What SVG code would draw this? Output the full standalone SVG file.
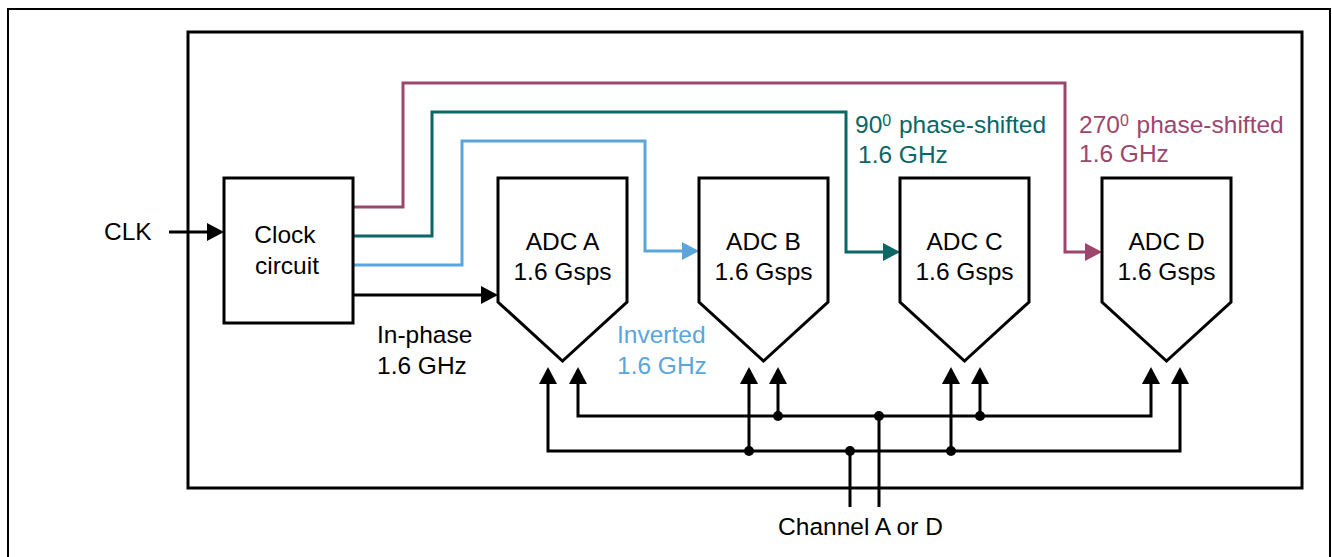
<svg xmlns="http://www.w3.org/2000/svg" width="1332" height="557" viewBox="0 0 1332 557">
  <style>
    .frame { fill: none; stroke: #000; }
    .blk { fill: #fff; stroke: #000; stroke-width: 3; stroke-linejoin: miter; }
    .wire { fill: none; stroke-width: 3; stroke-linejoin: miter; }
    .k { stroke: #000; }
    .mg { stroke: #9C466D; }
    .tl { stroke: #0B6666; }
    .bl { stroke: #5AA5DB; }
    text { font-family: "Liberation Sans", Arial, sans-serif; font-size: 24.5px; fill: #000; }
    .c { text-anchor: middle; }
    .tmg { fill: #9C466D; }
    .ttl { fill: #0B6666; }
    .tbl { fill: #5AA5DB; }
    .sup { font-size: 16px; }
  </style>
  <defs>
    <marker id="ak" markerUnits="userSpaceOnUse" markerWidth="17" markerHeight="18" refX="14" refY="9" orient="auto">
      <path d="M0,0 L17,9 L0,18 Z" fill="#000"/>
    </marker>
    <marker id="amg" markerUnits="userSpaceOnUse" markerWidth="17" markerHeight="18" refX="14" refY="9" orient="auto">
      <path d="M0,0 L17,9 L0,18 Z" fill="#9C466D"/>
    </marker>
    <marker id="atl" markerUnits="userSpaceOnUse" markerWidth="17" markerHeight="18" refX="14" refY="9" orient="auto">
      <path d="M0,0 L17,9 L0,18 Z" fill="#0B6666"/>
    </marker>
    <marker id="abl" markerUnits="userSpaceOnUse" markerWidth="17" markerHeight="18" refX="14" refY="9" orient="auto">
      <path d="M0,0 L17,9 L0,18 Z" fill="#5AA5DB"/>
    </marker>
  </defs>

  <rect width="1332" height="557" fill="#fff"/>

  <!-- outer and chip boundaries -->
  <rect class="frame" x="8" y="9" width="1322" height="562" stroke-width="2"/>
  <rect class="frame" x="188" y="32" width="1114" height="456" stroke-width="3"/>

  <!-- connectors -->
  <g id="connectors">
    <!-- CLK input -->
    <path class="wire k" d="M169,232 H221" marker-end="url(#ak)"/>
    <!-- clock phases -->
    <path class="wire mg" d="M353,207 H403 V83 H1065 V252 H1099" marker-end="url(#amg)"/>
    <path class="wire tl" d="M353,236 H432 V112 H846 V252 H897" marker-end="url(#atl)"/>
    <path class="wire bl" d="M353,265 H462 V141 H645 V251 H696" marker-end="url(#abl)"/>
    <path class="wire k" d="M353,295 H495" marker-end="url(#ak)"/>

    <!-- sampling buses -->
    <path class="wire k" d="M879,416 H578 V370" marker-end="url(#ak)"/>
    <path class="wire k" d="M879,416 H1151 V370" marker-end="url(#ak)"/>
    <path class="wire k" d="M850,451 H548 V370" marker-end="url(#ak)"/>
    <path class="wire k" d="M850,451 H1180 V370" marker-end="url(#ak)"/>
    <path class="wire k" d="M749,451 V370" marker-end="url(#ak)"/>
    <path class="wire k" d="M778,416 V370" marker-end="url(#ak)"/>
    <path class="wire k" d="M951,451 V370" marker-end="url(#ak)"/>
    <path class="wire k" d="M980,416 V370" marker-end="url(#ak)"/>
    <path class="wire k" d="M850,451 V507"/>
    <path class="wire k" d="M879,416 V507"/>

    <g fill="#000">
      <circle cx="749" cy="451" r="5"/>
      <circle cx="778" cy="416" r="5"/>
      <circle cx="951" cy="451" r="5"/>
      <circle cx="980" cy="416" r="5"/>
      <circle cx="850" cy="451" r="5"/>
      <circle cx="879" cy="416" r="5"/>
    </g>
  </g>

  <!-- clock generator -->
  <g id="clock">
    <rect class="blk" x="224" y="178" width="129" height="145"/>
    <text class="c" x="285" y="243">Clock</text>
    <text class="c" x="287" y="274">circuit</text>
  </g>

  <!-- converters -->
  <g id="adc-a">
    <path class="blk" d="M498,178 H627 V302 L562.5,361 L498,302 Z"/>
    <text class="c" x="562.5" y="250">ADC A</text>
    <text class="c" x="562.5" y="280">1.6 Gsps</text>
  </g>
  <g id="adc-b">
    <path class="blk" d="M699,178 H828 V302 L763.5,361 L699,302 Z"/>
    <text class="c" x="763.5" y="250">ADC B</text>
    <text class="c" x="763.5" y="280">1.6 Gsps</text>
  </g>
  <g id="adc-c">
    <path class="blk" d="M900,178 H1029 V302 L964.5,361 L900,302 Z"/>
    <text class="c" x="964.5" y="250">ADC C</text>
    <text class="c" x="964.5" y="280">1.6 Gsps</text>
  </g>
  <g id="adc-d">
    <path class="blk" d="M1102,178 H1231 V302 L1166.5,361 L1102,302 Z"/>
    <text class="c" x="1166.5" y="250">ADC D</text>
    <text class="c" x="1166.5" y="280">1.6 Gsps</text>
  </g>

  <!-- labels -->
  <g id="labels">
    <text x="104" y="240">CLK</text>
    <text x="377" y="343">In-phase</text>
    <text x="377" y="374">1.6 GHz</text>
    <text class="tbl" x="617" y="343">Inverted</text>
    <text class="tbl" x="617" y="374">1.6 GHz</text>
    <text class="ttl" x="855" y="133">90<tspan class="sup" dy="-7">0</tspan><tspan dy="7" dx="1"> phase-shifted</tspan></text>
    <text class="ttl" x="858" y="163">1.6 GHz</text>
    <text class="tmg" x="1079" y="133">270<tspan class="sup" dy="-7">0</tspan><tspan dy="7" dx="1"> phase-shifted</tspan></text>
    <text class="tmg" x="1079" y="162">1.6 GHz</text>
    <text class="c" x="860.5" y="535">Channel A or D</text>
  </g>
</svg>
